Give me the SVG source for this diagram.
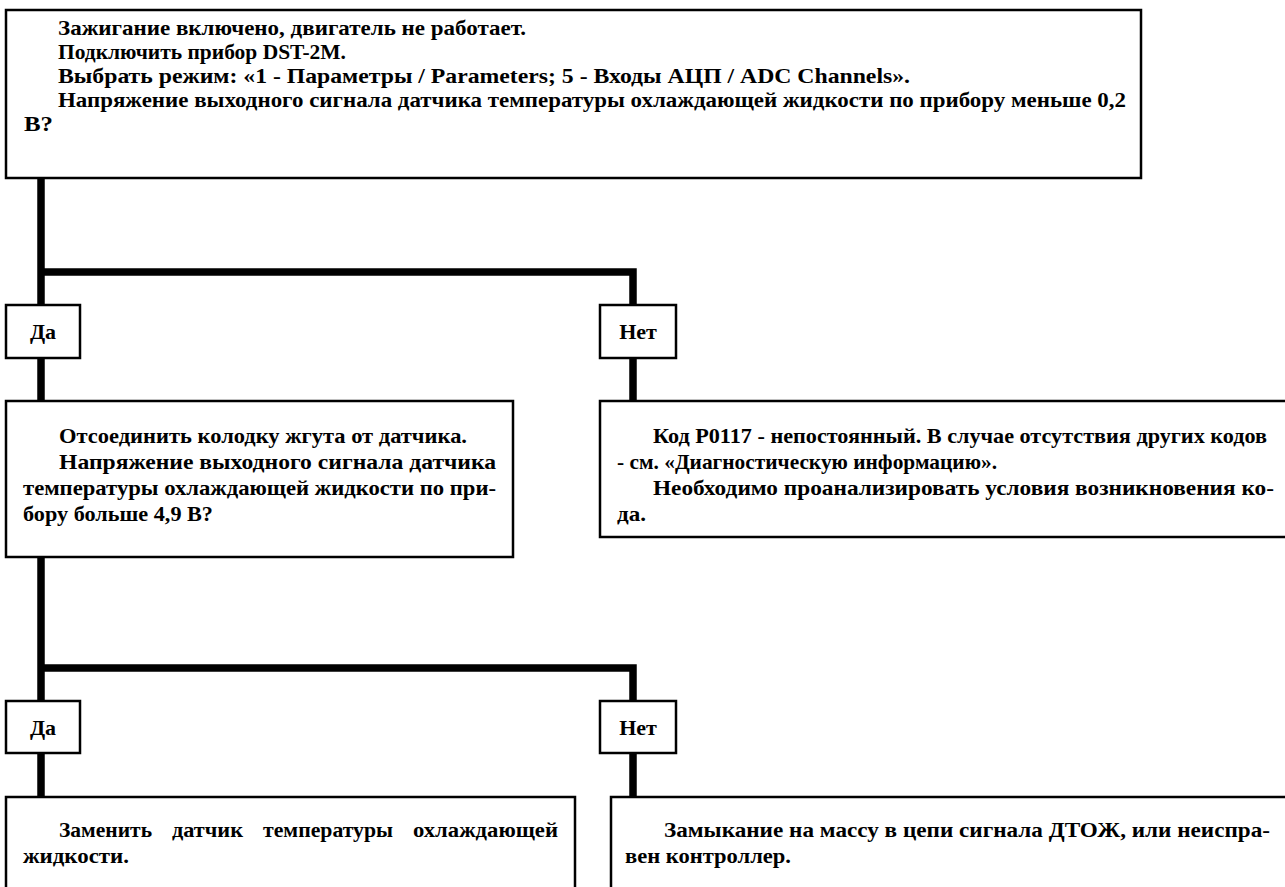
<svg xmlns="http://www.w3.org/2000/svg" width="1285" height="887" viewBox="0 0 1285 887">
<style>
.box{fill:#fff;stroke:#000;stroke-width:2.5}
.con{fill:none;stroke:#000;stroke-width:7.5;stroke-linecap:square}
text{font-family:"Liberation Serif","Times New Roman",serif;font-weight:bold;font-size:22px;fill:#000}
.c{text-anchor:middle}
</style>
<rect width="1285" height="887" fill="#fff"/>
<g id="connectors">
<path class="con" d="M41,178 V401 M41,272 H633 V401"/>
<path class="con" d="M41,557 V797 M41,668 H633 V797"/>
</g>
<g id="n1">
<rect class="box" x="6" y="10" width="1135" height="168"/>
<text x="58" y="35" textLength="468" lengthAdjust="spacingAndGlyphs">Зажигание включено, двигатель не работает.</text>
<text x="58" y="59" textLength="288" lengthAdjust="spacingAndGlyphs">Подключить прибор DST-2M.</text>
<text x="58" y="83" textLength="852" lengthAdjust="spacingAndGlyphs">Выбрать режим: «1 - Параметры / Parameters; 5 - Входы АЦП / ADC Channels».</text>
<text x="58" y="107" textLength="1068" lengthAdjust="spacingAndGlyphs">Напряжение выходного сигнала датчика температуры охлаждающей жидкости по прибору меньше 0,2</text>
<text x="24" y="131" textLength="29" lengthAdjust="spacingAndGlyphs">В?</text>
</g>
<g id="yes1">
<rect class="box" x="6" y="305" width="74" height="53"/>
<text class="c" x="43" y="339">Да</text>
</g>
<g id="no1">
<rect class="box" x="600" y="305" width="76" height="53"/>
<text class="c" x="638" y="339">Нет</text>
</g>
<g id="n2">
<rect class="box" x="6" y="401" width="507" height="156"/>
<text x="59" y="443" textLength="408" lengthAdjust="spacingAndGlyphs">Отсоединить колодку жгута от датчика.</text>
<text x="59" y="469" textLength="437" lengthAdjust="spacingAndGlyphs">Напряжение выходного сигнала датчика</text>
<text x="23" y="495" textLength="473" lengthAdjust="spacingAndGlyphs">температуры охлаждающей жидкости по при-</text>
<text x="23" y="521" textLength="190" lengthAdjust="spacingAndGlyphs">бору больше 4,9 В?</text>
</g>
<g id="n3">
<rect class="box" x="600" y="401" width="700" height="136"/>
<text x="653" y="443" textLength="614" lengthAdjust="spacingAndGlyphs">Код P0117 - непостоянный. В случае отсутствия других кодов</text>
<text x="617" y="469" textLength="380" lengthAdjust="spacingAndGlyphs">- см. «Диагностическую информацию».</text>
<text x="653" y="495" textLength="621" lengthAdjust="spacingAndGlyphs">Необходимо проанализировать условия возникновения ко-</text>
<text x="617" y="521" textLength="29" lengthAdjust="spacingAndGlyphs">да.</text>
</g>
<g id="yes2">
<rect class="box" x="6" y="701" width="74" height="52"/>
<text class="c" x="43" y="735">Да</text>
</g>
<g id="no2">
<rect class="box" x="600" y="701" width="76" height="52"/>
<text class="c" x="638" y="735">Нет</text>
</g>
<g id="n4">
<rect class="box" x="6" y="797" width="569" height="120"/>
<text y="837"><tspan x="59" textLength="93" lengthAdjust="spacingAndGlyphs">Заменить</tspan> <tspan x="172" textLength="71" lengthAdjust="spacingAndGlyphs">датчик</tspan> <tspan x="263" textLength="130" lengthAdjust="spacingAndGlyphs">температуры</tspan> <tspan x="413" textLength="145" lengthAdjust="spacingAndGlyphs">охлаждающей</tspan></text>
<text x="23" y="863" textLength="106" lengthAdjust="spacingAndGlyphs">жидкости.</text>
</g>
<g id="n5">
<rect class="box" x="611" y="797" width="700" height="120"/>
<text x="664" y="837" textLength="606" lengthAdjust="spacingAndGlyphs">Замыкание на массу в цепи сигнала ДТОЖ, или неиспра-</text>
<text x="625" y="863" textLength="166" lengthAdjust="spacingAndGlyphs">вен контроллер.</text>
</g>
</svg>
